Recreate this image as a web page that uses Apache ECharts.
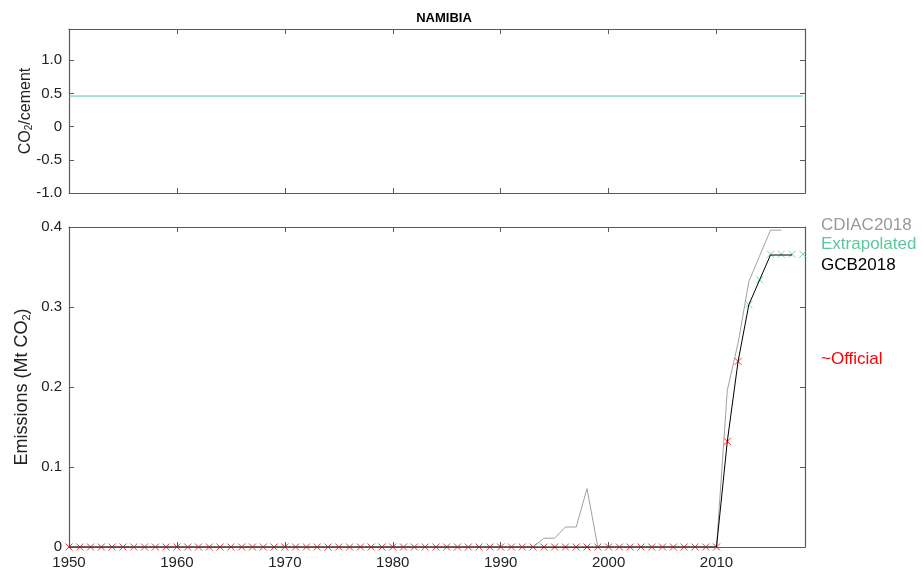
<!DOCTYPE html>
<html>
<head>
<meta charset="utf-8">
<script src="https://cdn.jsdelivr.net/npm/echarts@6/dist/echarts.min.js"></script>
<style>
  html, body { margin: 0; padding: 0; background: #fff; }
  #chart { width: 922px; height: 574px; }
</style>
</head>
<body>
<div id="chart"></div>
<script>
// ratio panel (top)
var ratioYears = [1950, 2018];
var ratioValues = [0.46, 0.46];

// CDIAC2018, 1950-2016
var cdiacYears = [
  1950, 1951, 1952, 1953, 1954, 1955, 1956, 1957, 1958, 1959,
  1960, 1961, 1962, 1963, 1964, 1965, 1966, 1967, 1968, 1969,
  1970, 1971, 1972, 1973, 1974, 1975, 1976, 1977, 1978, 1979,
  1980, 1981, 1982, 1983, 1984, 1985, 1986, 1987, 1988, 1989,
  1990, 1991, 1992, 1993, 1994, 1995, 1996, 1997, 1998, 1999,
  2000, 2001, 2002, 2003, 2004, 2005, 2006, 2007, 2008, 2009,
  2010, 2011, 2012, 2013, 2014, 2015, 2016
];
var cdiacValues = [
  0, 0, 0, 0, 0, 0, 0, 0, 0, 0,
  0, 0, 0, 0, 0, 0, 0, 0, 0, 0,
  0, 0, 0, 0, 0, 0, 0, 0, 0, 0,
  0, 0, 0, 0, 0, 0, 0, 0, 0, 0,
  0, 0, 0, 0, 0.011, 0.011, 0.025, 0.025, 0.073, 0,
  0, 0, 0, 0, 0, 0, 0, 0, 0, 0,
  0, 0.196, 0.255, 0.332, 0.364, 0.396, 0.396
];

// GCB2018, 1950-2017
var gcbYears = cdiacYears.concat([2017]);
var gcbValues = [
  0, 0, 0, 0, 0, 0, 0, 0, 0, 0,
  0, 0, 0, 0, 0, 0, 0, 0, 0, 0,
  0, 0, 0, 0, 0, 0, 0, 0, 0, 0,
  0, 0, 0, 0, 0, 0, 0, 0, 0, 0,
  0, 0, 0, 0, 0, 0, 0, 0, 0, 0,
  0, 0, 0, 0, 0, 0, 0, 0, 0, 0,
  0, 0.132, 0.232, 0.303, 0.334, 0.365, 0.365, 0.365
];

// ~Official, 1950-2012
var officialYears = cdiacYears.slice(0, 63);
var officialValues = [
  0, 0, 0, 0, 0, 0, 0, 0, 0, 0,
  0, 0, 0, 0, 0, 0, 0, 0, 0, 0,
  0, 0, 0, 0, 0, 0, 0, 0, 0, 0,
  0, 0, 0, 0, 0, 0, 0, 0, 0, 0,
  0, 0, 0, 0, 0, 0, 0, 0, 0, 0,
  0, 0, 0, 0, 0, 0, 0, 0, 0, 0,
  0, 0.132, 0.232
];

// Extrapolated
var extraYears = [2013, 2014, 2015, 2016, 2017, 2018];
var extraValues = [0.303, 0.334, 0.366, 0.366, 0.366, 0.366];

var xTicks = [1950, 1960, 1970, 1980, 1990, 2000, 2010];

function pairs(xs, ys) {
  return xs.map(function (x, i) { return [x, ys[i]]; });
}

var chart = echarts.init(document.getElementById('chart'));

var font = 'Liberation Sans, Arial, sans-serif';
var boxColor = '#5a5a5a';
var teal = '#5cc79d';
var cross = 'path://M0,0L10,10M10,0L0,10';

function xAx(grid, pos, labels) {
  return {
    type: 'value', gridIndex: grid, position: pos,
    min: 1950, max: 2018.2, interval: 10,
    axisLine: { show: true, onZero: false, lineStyle: { color: boxColor, width: 1.2 } },
    axisTick: { show: true, inside: true, length: 5, lineStyle: { color: boxColor } },
    axisLabel: { show: labels, color: '#222', fontSize: 15, margin: 8, fontFamily: font,
      formatter: function (v) { return xTicks.indexOf(v) >= 0 ? String(v) : ''; } },
    splitLine: { show: false }
  };
}

function yAx(grid, pos, min, max, interval, labels, fmt, name, nameStyle, gap) {
  return {
    type: 'value', gridIndex: grid, position: pos,
    min: min, max: max, interval: interval,
    name: name || '', nameLocation: 'middle', nameGap: gap || 0, nameRotate: 90,
    nameMoveOverlap: false,
    nameTextStyle: nameStyle || {},
    axisLine: { show: true, onZero: false, lineStyle: { color: boxColor, width: 1.2 } },
    axisTick: { show: true, inside: true, length: 5, lineStyle: { color: boxColor } },
    axisLabel: { show: labels, color: '#222', fontSize: 15, margin: 7, fontFamily: font, formatter: fmt },
    splitLine: { show: false }
  };
}

var option = {
  animation: false,
  backgroundColor: '#fff',
  title: {
    text: 'NAMIBIA', left: 439, top: 7, textAlign: 'center',
    textStyle: { fontSize: 13, fontWeight: 'bold', color: '#000', fontFamily: font }
  },
  grid: [
    { left: 69, top: 29, width: 736, height: 164 },
    { left: 69, top: 227, width: 736, height: 320 }
  ],
  xAxis: [
    xAx(0, 'bottom', false),
    xAx(0, 'top', false),
    xAx(1, 'bottom', true),
    xAx(1, 'top', false)
  ],
  yAxis: [
    yAx(0, 'left', -1, 1.47, 0.5, true,
      function (v) { return v > 1.01 ? '' : (v === 0 ? '0' : v.toFixed(1)); },
      '{a|CO}{s|2}{a|/cement}',
      { color: '#222', fontFamily: font,
        rich: { a: { fontSize: 16, color: '#222', fontFamily: font }, s: { fontSize: 10, color: '#222', fontFamily: font, verticalAlign: 'bottom', padding: [7, 0, 0, 0] } } },
      35),
    yAx(0, 'right', -1, 1.47, 0.5, false),
    yAx(1, 'left', 0, 0.4, 0.1, true,
      function (v) { return v === 0 ? '0' : v.toFixed(1); },
      '{a|Emissions (Mt CO}{s|2}{a|)}',
      { color: '#222', fontFamily: font,
        rich: { a: { fontSize: 18, color: '#222', fontFamily: font }, s: { fontSize: 11, color: '#222', fontFamily: font, verticalAlign: 'bottom', padding: [8, 0, 0, 0] } } },
      37),
    yAx(1, 'right', 0, 0.4, 0.1, false)
  ],
  series: [
    {
      type: 'line', xAxisIndex: 0, yAxisIndex: 0,
      data: pairs(ratioYears, ratioValues), showSymbol: false,
      lineStyle: { color: teal, width: 1 }
    },
    {
      name: 'CDIAC2018', type: 'line', xAxisIndex: 2, yAxisIndex: 2,
      data: pairs(cdiacYears, cdiacValues), showSymbol: false,
      lineStyle: { color: '#a0a0a0', width: 1 }
    },
    {
      name: 'GCB2018', type: 'line', xAxisIndex: 2, yAxisIndex: 2,
      data: pairs(gcbYears, gcbValues), showSymbol: false,
      lineStyle: { color: '#000', width: 1 }
    },
    {
      name: '~Official', type: 'scatter', xAxisIndex: 2, yAxisIndex: 2,
      data: pairs(officialYears, officialValues),
      symbol: cross, symbolSize: 7,
      itemStyle: { color: 'none', borderColor: '#ff0000', borderWidth: 1 }
    },
    {
      name: 'Extrapolated', type: 'scatter', xAxisIndex: 2, yAxisIndex: 2,
      data: pairs(extraYears, extraValues),
      symbol: cross, symbolSize: 7,
      itemStyle: { color: 'none', borderColor: teal, borderWidth: 1 }
    }
  ],
  graphic: [
    { type: 'text', left: 821, top: 217, style: { text: 'CDIAC2018', fill: '#999', fontSize: 17, fontFamily: font } },
    { type: 'text', left: 821, top: 236, style: { text: 'Extrapolated', fill: teal, fontSize: 17, fontFamily: font } },
    { type: 'text', left: 821, top: 257, style: { text: 'GCB2018', fill: '#000', fontSize: 17, fontFamily: font } },
    { type: 'text', left: 821, top: 351, style: { text: '~Official', fill: '#ff0000', fontSize: 17, fontFamily: font } }
  ]
};

chart.setOption(option);
</script>
</body>
</html>
